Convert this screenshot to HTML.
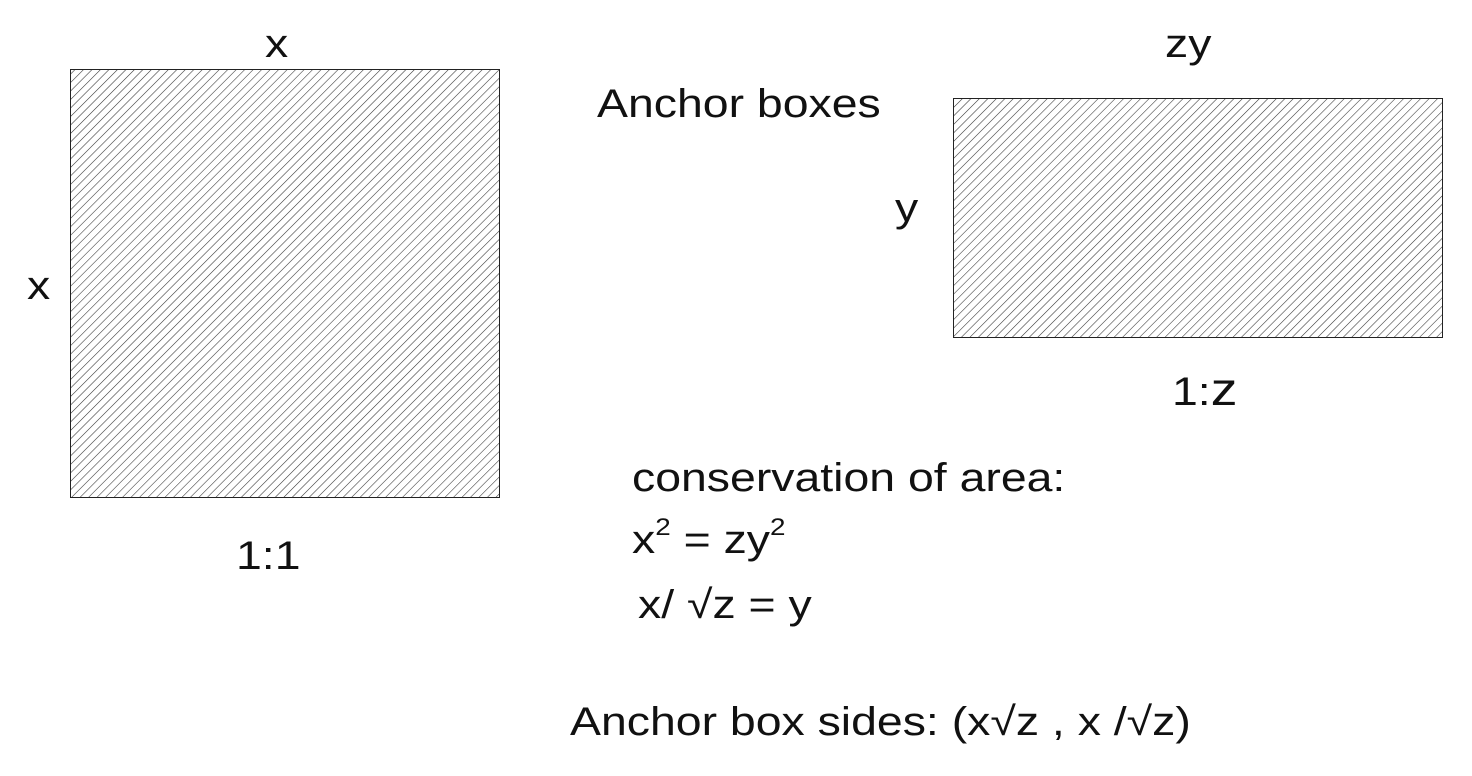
<!DOCTYPE html>
<html><head><meta charset="utf-8"><style>
body{margin:0;width:1472px;height:776px;background:#fff;overflow:hidden;font-family:"Liberation Sans",sans-serif;}
.t{position:absolute;font-size:40px;color:#111;white-space:nowrap;line-height:1;transform:scaleX(1.16);transform-origin:left top;}
sup{font-size:24px;vertical-align:top;position:relative;top:-4px;}
</style></head><body>
<svg width="1472" height="776" style="position:absolute;left:0;top:0">
<defs><pattern id="h" width="6" height="6" patternUnits="userSpaceOnUse" patternTransform="rotate(45)">
<line x1="0" y1="0" x2="0" y2="6" stroke="#333" stroke-width="1.1"/></pattern></defs>
<rect x="70.5" y="69.5" width="429" height="428" fill="url(#h)" stroke="#222" stroke-width="1"/>
<rect x="953.5" y="98.5" width="489" height="239" fill="url(#h)" stroke="#222" stroke-width="1"/>
</svg>
<div class="t" style="left:265px;top:24px">x</div>
<div class="t" style="left:27px;top:266px">x</div>
<div class="t" style="left:236px;top:536px">1:1</div>
<div class="t" style="left:597px;top:84px">Anchor boxes</div>
<div class="t" style="left:1165px;top:24px">zy</div>
<div class="t" style="left:895px;top:188px">y</div>
<div class="t" style="left:1172px;top:366px">1:<span style="font-size:46px">z</span></div>
<div class="t" style="left:632px;top:458px">conservation of area:</div>
<div class="t" style="left:632px;top:520px">x<sup>2</sup> = zy<sup>2</sup></div>
<div class="t" style="left:638px;top:585px">x/ √z = y</div>
<div class="t" style="left:570px;top:702px">Anchor box sides: (x√z , x /√z)</div>
</body></html>
